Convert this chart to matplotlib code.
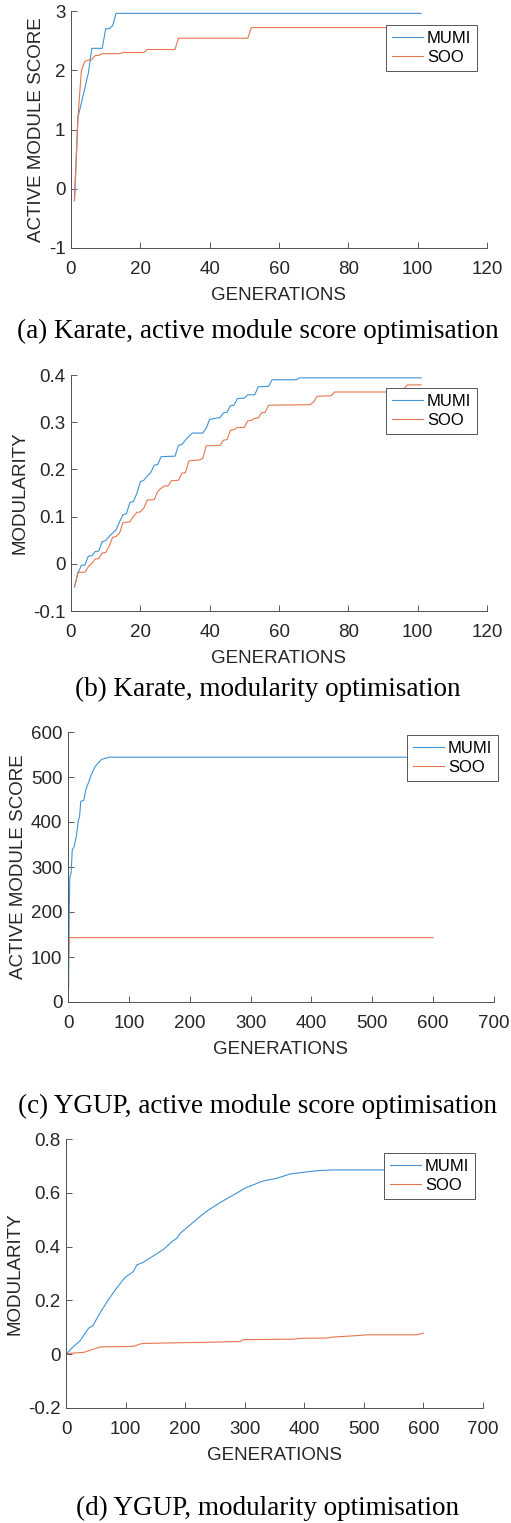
import matplotlib.pyplot as plt

W, H = 511, 1523

BLUE = "#3f93d6"
ORANGE = "#e5774f"
SERIES = ["MUMI", "SOO"]

# (a) Karate, active module score - breakpoints (generation, value)
a_mumi_x = [1, 2, 3, 4, 5, 6, 9, 10, 11, 12, 13, 101]
a_mumi_y = [-0.2, 1.2, 1.45, 1.7, 1.95, 2.37, 2.37, 2.7, 2.7, 2.75, 2.96, 2.96]
a_soo_x = [1, 2, 3, 4, 5, 6, 7, 8, 9, 14, 15, 21, 22, 30, 31, 51, 52, 101]
a_soo_y = [-0.2, 1.2, 2.0, 2.15, 2.17, 2.18, 2.25, 2.25, 2.28, 2.28, 2.3, 2.3,
           2.35, 2.35, 2.54, 2.54, 2.72, 2.72]

# (b) Karate, modularity
b_mumi_x = [1, 2, 3, 4, 5, 6, 7, 8, 9, 10, 11, 12, 13, 14, 15, 16, 17, 18, 19, 20,
            21, 22, 23, 24, 25, 26, 30, 31, 32, 33, 34, 35, 38, 39, 40, 43, 44, 45,
            46, 47, 48, 50, 51, 53, 54, 57, 58, 65, 66, 101]
b_mumi_y = [-0.049, -0.02, -0.003, -0.003, 0.016, 0.017, 0.026, 0.027, 0.047, 0.049,
            0.058, 0.065, 0.072, 0.089, 0.104, 0.106, 0.13, 0.132, 0.149, 0.174,
            0.177, 0.186, 0.193, 0.209, 0.21, 0.227, 0.228, 0.251, 0.253, 0.262,
            0.27, 0.277, 0.277, 0.287, 0.306, 0.31, 0.32, 0.321, 0.335, 0.336,
            0.35, 0.351, 0.358, 0.358, 0.375, 0.376, 0.39, 0.39, 0.394, 0.394]
b_soo_x = [1, 2, 4, 5, 6, 7, 8, 9, 10, 11, 12, 13, 14, 15, 17, 18, 19, 20, 21, 22,
           24, 25, 26, 27, 28, 29, 31, 32, 33, 34, 37, 38, 39, 43, 44, 45, 46, 47,
           48, 50, 51, 52, 53, 54, 55, 56, 57, 69, 70, 71, 75, 76, 95, 96, 97, 101]
b_soo_y = [-0.049, -0.018, -0.018, -0.006, 0.001, 0.01, 0.011, 0.023, 0.024, 0.037,
           0.056, 0.058, 0.065, 0.087, 0.089, 0.1, 0.109, 0.11, 0.118, 0.135,
           0.136, 0.153, 0.16, 0.165, 0.165, 0.176, 0.177, 0.192, 0.193, 0.218,
           0.22, 0.223, 0.25, 0.251, 0.262, 0.263, 0.283, 0.284, 0.289, 0.289,
           0.303, 0.304, 0.308, 0.309, 0.32, 0.321, 0.336, 0.337, 0.343, 0.355,
           0.356, 0.364, 0.364, 0.371, 0.379, 0.379]

# (c) YGUP, active module score
c_mumi_x = [1, 2, 3, 5, 7, 10, 14, 17, 19, 21, 26, 29, 34, 38, 44, 49, 55, 60, 68, 600]
c_mumi_y = [30, 200, 278, 286, 338, 345, 371, 404, 412, 446, 448, 471, 489, 504,
            522, 530, 539, 541, 544, 544]
c_soo_x = [1, 2, 600]
c_soo_y = [98, 143, 143]

# (d) YGUP, modularity
d_mumi_x = [1, 10, 24, 38, 45, 57, 71, 85, 99, 113, 119, 130, 147, 164, 178, 186,
            192, 208, 225, 239, 259, 281, 303, 331, 354, 376, 398, 421, 449, 600]
d_mumi_y = [0.002, 0.023, 0.051, 0.097, 0.106, 0.153, 0.202, 0.246, 0.285, 0.307,
            0.332, 0.342, 0.366, 0.39, 0.419, 0.431, 0.45, 0.48, 0.512, 0.536,
            0.564, 0.592, 0.62, 0.644, 0.654, 0.67, 0.676, 0.682, 0.685, 0.685]
d_soo_x = [1, 30, 44, 57, 113, 125, 130, 225, 292, 298, 382, 393, 437, 449, 488,
           505, 588, 600]
d_soo_y = [0.002, 0.007, 0.017, 0.027, 0.029, 0.038, 0.04, 0.044, 0.047, 0.054,
           0.056, 0.059, 0.06, 0.064, 0.069, 0.072, 0.072, 0.078]

PANELS = [
    # pixel box is (left, top, right, bottom); leg is the legend's top-left corner
    dict(mumi=(a_mumi_x, a_mumi_y), soo=(a_soo_x, a_soo_y),
         box=(71, 11, 487, 248), xlim=(0, 120), ylim=(-1, 3),
         xticks=range(0, 121, 20), yticks=range(-1, 4),
         ylabel="ACTIVE MODULE SCORE", leg=(386, 25),
         caption="(a) Karate, active module score optimisation", cap=(258, 331)),
    dict(mumi=(b_mumi_x, b_mumi_y), soo=(b_soo_x, b_soo_y),
         box=(71, 375, 487, 611), xlim=(0, 120), ylim=(-0.1, 0.4),
         xticks=range(0, 121, 20), yticks=[-0.1, 0, 0.1, 0.2, 0.3, 0.4],
         ylabel="MODULARITY", leg=(386, 388),
         caption="(b) Karate, modularity optimisation", cap=(268, 689)),
    dict(mumi=(c_mumi_x, c_mumi_y), soo=(c_soo_x, c_soo_y),
         box=(68, 732, 494, 1002), xlim=(0, 700), ylim=(0, 600),
         xticks=range(0, 701, 100), yticks=range(0, 601, 100),
         ylabel="ACTIVE MODULE SCORE", leg=(407, 735),
         caption="(c) YGUP, active module score optimisation", cap=(258, 1106)),
    dict(mumi=(d_mumi_x, d_mumi_y), soo=(d_soo_x, d_soo_y),
         box=(66, 1139, 483, 1408), xlim=(0, 700), ylim=(-0.2, 0.8),
         xticks=range(0, 701, 100), yticks=[-0.2, 0, 0.2, 0.4, 0.6, 0.8],
         ylabel="MODULARITY", leg=(384, 1153),
         caption="(d) YGUP, modularity optimisation", cap=(268, 1508)),
]

plt.rcParams["font.family"] = ["Liberation Sans", "DejaVu Sans"]
FS = 13.5

fig = plt.figure(figsize=(W / 100, H / 100), dpi=100)

for p in PANELS:
    l, t, r, b = p["box"]
    ax = fig.add_axes([l / W, 1 - b / H, (r - l) / W, (b - t) / H])
    ax.plot(*p["mumi"], color=BLUE, lw=0.8, label=SERIES[0])
    ax.plot(*p["soo"], color=ORANGE, lw=0.8, label=SERIES[1])
    ax.set_xlim(*p["xlim"])
    ax.set_ylim(*p["ylim"])
    ax.set_xticks(list(p["xticks"]))
    ax.set_yticks(list(p["yticks"]))
    ax.set_yticklabels([f"{v:g}" for v in p["yticks"]])
    ax.tick_params(direction="in", length=4, width=0.6, colors="#404040",
                   labelcolor="#262626", labelsize=FS)
    ax.tick_params(axis="x", pad=9.5)
    ax.tick_params(axis="y", pad=4)
    for s in ("top", "right"):
        ax.spines[s].set_visible(False)
    for s in ("left", "bottom"):
        ax.spines[s].set_color("#505050")
        ax.spines[s].set_linewidth(0.7)
    ax.set_xlabel("GENERATIONS", fontsize=FS, color="#262626", labelpad=6)
    ax.set_ylabel(p["ylabel"], fontsize=FS, color="#262626", labelpad=3)

    lx, ly = p["leg"]
    leg = ax.legend(loc="upper left",
                    bbox_to_anchor=((lx - l) / (r - l), 1 - (ly - t) / (b - t)),
                    borderaxespad=0, fontsize=12, frameon=True, fancybox=False,
                    framealpha=1, edgecolor="#555555", handlelength=1.85,
                    handletextpad=0.25, borderpad=0.35, labelspacing=0.25)
    leg.get_frame().set_linewidth(0.7)

    cx, cy = p["cap"]
    fig.text(cx / W, 1 - cy / H, p["caption"], ha="center", va="center",
             fontsize=19.5, family="Liberation Serif", color="black")

fig.savefig("out.png", dpi=100)
